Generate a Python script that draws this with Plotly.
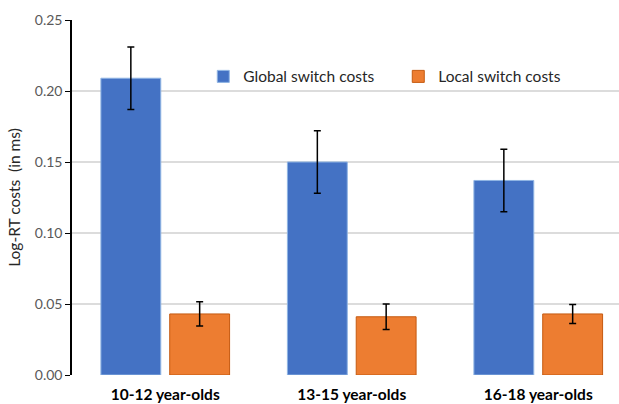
import plotly.graph_objects as go

# Age groups and mean log-RT switch costs with their error margins
age_groups = ["10-12 year-olds", "13-15 year-olds", "16-18 year-olds"]
global_costs = [0.209, 0.150, 0.137]
global_err = [0.022, 0.022, 0.022]
local_costs = [0.043, 0.041, 0.043]
local_err = [0.0085, 0.009, 0.0067]

y_ticks = [0.00, 0.05, 0.10, 0.15, 0.20, 0.25]

FONT = "Lato"

fig = go.Figure()
fig.add_trace(go.Bar(
    name="Global switch costs", x=age_groups, y=global_costs,
    marker=dict(color="#4472C4", line=dict(color="#8FB4E3", width=1)),
    error_y=dict(type="data", array=global_err, color="#000000", thickness=1.5, width=3.5),
))
fig.add_trace(go.Bar(
    name="Local switch costs", x=age_groups, y=local_costs,
    marker=dict(color="#ED7D31", line=dict(color="#C55A11", width=1)),
    error_y=dict(type="data", array=local_err, color="#000000", thickness=1.5, width=3.5),
))

fig.update_layout(
    width=619, height=404,
    margin=dict(l=72, r=0, t=20, b=29),
    paper_bgcolor="white", plot_bgcolor="white",
    barmode="group", bargap=0.262, bargroupgap=0.13,
    font=dict(family=FONT, color="#404040"),
    showlegend=True,
    legend=dict(
        orientation="h", x=0.24, y=0.84, xanchor="left", yanchor="middle",
        font=dict(size=15.5, color="#262626", family=FONT),
        bgcolor="rgba(0,0,0,0)", itemwidth=30, tracegroupgap=0,
        entrywidth=150, entrywidthmode="pixels",
    ),
    xaxis=dict(
        range=[-0.5, 2.433], showgrid=False, showline=False, ticks="",
        automargin=False, ticklabelstandoff=8,
        tickfont=dict(size=15.5, color="#000000", family=FONT, weight="bold"),
    ),
    yaxis=dict(
        range=[0, 0.25], tickvals=y_ticks, tickformat=".2f",
        showgrid=True, gridcolor="#DCDCDC", gridwidth=1.5,
        showline=True, linecolor="#000000", linewidth=1.5,
        ticks="outside", ticklen=5, tickcolor="#000000",
        tickfont=dict(size=14, color="#595959", family=FONT),
        zeroline=False, automargin=False,
        title=dict(text="Log-RT costs  (in ms)", font=dict(size=15.5, color="#262626", family=FONT), standoff=10),
    ),
)

fig.write_html("out.html")
